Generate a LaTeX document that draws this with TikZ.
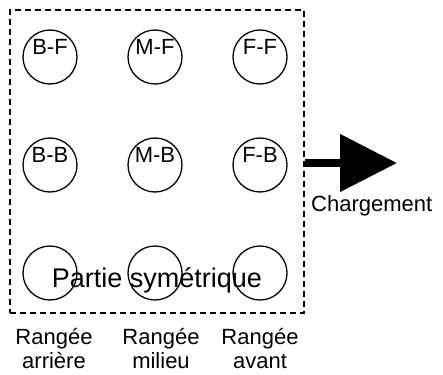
\documentclass[tikz,border=0pt]{standalone}
\usepackage{fontspec}
\setmainfont{Liberation Sans}
\usetikzlibrary{positioning,arrows.meta}

\tikzset{
  siege/.style={circle, draw, line width=1.3pt, minimum size=54pt, inner sep=0pt},
  texte/.style={font=\fontsize{22}{24}\selectfont, align=center, inner sep=0pt},
}

\begin{document}
\begin{tikzpicture}[x=1pt, y=-1pt, node distance=108pt and 105pt, on grid]
    \useasboundingbox (0,0) rectangle (443,374);
    \node[draw, dash pattern=on 6pt off 4pt, line width=1.3pt, minimum width=294pt, minimum height=303pt] (zone) at (157,161.5) {};
    % sieges
    \node[siege, label={[texte, yshift=10pt]center:B-F}] (bf) at (50,57) {};
    \node[siege, label={[texte, yshift=10pt]center:M-F}] (mf) [right=of bf] {};
    \node[siege, label={[texte, yshift=10pt]center:F-F}] (ff) [right=of mf] {};
    \node[siege, label={[texte, yshift=10pt]center:B-B}] (bb) [below=of bf] {};
    \node[siege, label={[texte, yshift=10pt]center:M-B}] (mb) [right=of bb] {};
    \node[siege, label={[texte, yshift=10pt]center:F-B}] (fb) [right=of mb] {};
    \node[siege] (bs) [below=of bb] {};
    \node[siege] (ms) [right=of bs] {};
    \node[siege] (fs) [right=of ms] {};
    \node[font=\fontsize{27}{30}\selectfont, anchor=base, inner sep=0pt] (sym) at (157,287) {Partie symétrique};
    % rangees
    \node[texte] (arriere) at (54,349) {Rangée\\arrière};
    \node[texte] (milieu) at (161,349) {Rangée\\milieu};
    \node[texte] (avant) at (260,349) {Rangée\\avant};
    % chargement
    \coordinate (pointe) at (397,163);
    \draw[line width=8pt, -{Triangle[length=57pt, width=56pt]}] (zone.east |- pointe) -- (pointe);
    \node[texte, anchor=base west] (charge) at (311,211) {Chargement};
\end{tikzpicture}
\end{document}
